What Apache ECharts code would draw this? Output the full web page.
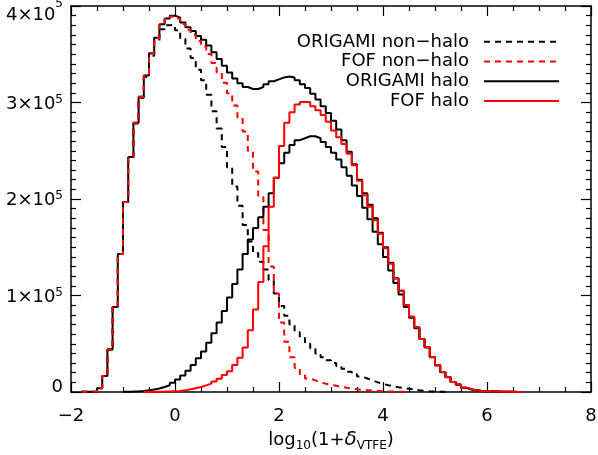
<!DOCTYPE html>
<html lang="en">
<head>
  <meta charset="UTF-8" />
  <title>log10(1+delta_VTFE) histogram</title>
  <style>
    * { padding: 0; margin: 0; }
    html, body { width: 100%; height: 100%; background: #fff; }
    #chart { width: 598px; height: 455px; }
  </style>
</head>
<body>
  <div id="chart"></div>
  <script src="https://cdn.jsdelivr.net/npm/echarts@6/dist/echarts.min.js"></script>
  <script>
    // bins are 0.1 wide in log10(1+delta); every list starts at its first bin's left edge
    var binWidth = 0.1

    var allStart = -1.8
    var allCounts = [
      200, 300, 500, 4000, 16600, 44000, 88000, 143000, 197000, 243500,
      279000, 306000, 328000, 351000, 367000, 381000, 387000, 390000, 388000, 383000,
      378000, 374000, 369000, 365000, 359000, 352000, 345000, 338000, 331000, 325000,
      320000, 316000, 314000, 314000, 316000, 319000, 322000, 324000, 326000, 327000,
      326000, 323000, 319000, 315000, 309000, 303000, 296000, 289000, 281000, 272000,
      261000, 249000, 236000, 220000, 206000, 194000, 180000, 165000, 150000, 134000,
      118000, 105000, 90000, 78000, 67000, 55000, 46600, 36300, 28000, 20700,
      15500, 10400, 7700, 4500, 2800, 1800, 1000, 700, 500, 400,
      300, 200, 200, 100, 100
    ]

    var origamiNonHaloStart = -1.8
    var origamiNonHalo = [
      200, 300, 500, 4000, 16600, 44000, 88000, 143000, 196800, 243100,
      278300, 304900, 326300, 348500, 363400, 375800, 380000, 380500, 375000, 366000,
      356000, 346000, 334000, 323000, 308000, 291000, 273000, 254000, 233000, 213000,
      193000, 173000, 156000, 144000, 135000, 127000, 116000, 102000, 89000, 79000,
      70000, 62000, 56000, 50000, 45000, 40000, 36000, 33000, 30000, 27000,
      24000, 21000, 18500, 16000, 14000, 12000, 10000, 8500, 7000, 6000,
      5000, 4200, 3300, 2500, 1800, 1200, 800, 500, 300, 200
    ]

    var fofNonHaloStart = -1.8
    var fofNonHalo = [
      200, 300, 500, 4000, 16600, 44000, 88000, 143000, 197000, 243500,
      279000, 306000, 327900, 350800, 366700, 380600, 386400, 389200, 387000, 381300,
      375200, 370200, 363800, 358100, 350300, 341000, 331200, 320400, 309500, 297000,
      284500, 270000, 250000, 228600, 202000, 168000, 130000, 102000, 72000, 52000,
      36000, 25000, 18500, 14000, 12000, 10000, 8500, 7500, 6500, 5500,
      4500, 3500, 2800, 2200, 1800, 1400, 1100, 800, 600, 400,
      300, 200, 100
    ]

    var origamiHaloStart = -1.0
    var origamiHalo = [
      200, 400, 700, 1100, 1700, 2500, 3600, 5200, 7000, 9500,
      13000, 17000, 22000, 28000, 35000, 42000, 51000, 61000, 72000, 84000,
      98000, 112000, 127000, 143000, 158000, 170000, 181000, 192000, 206000, 222000,
      237000, 248000, 256000, 261000, 263000, 265000, 265000, 263000, 259000, 254000,
      248000, 241000, 233000, 224000, 214000, 203000, 191000, 179000, 166000, 153000,
      140000, 126000, 113000, 101000, 88000, 77000, 66000, 55000, 46000, 36000,
      27500, 20500, 15300, 10300, 7600, 4400, 2700, 1700, 1000, 700,
      500, 400, 300, 200, 200, 100, 100
    ]

    var fofHaloStart = -0.6
    var fofHalo = [
      100, 200, 300, 400, 600, 800, 1000, 1700, 2800, 3800,
      5200, 6900, 8700, 11000, 13800, 17600, 21500, 28000, 35500, 46000,
      64000, 85400, 114000, 151000, 192000, 222000, 255000, 279000, 290000, 298000,
      300500, 300500, 296000, 292000, 287000, 280000, 271000, 264000, 257000, 247000,
      235000, 219000, 204000, 192000, 178000, 164000, 149000, 133000, 117500, 105000,
      90000, 78000, 67000, 55000, 46600, 36300, 28000, 20700, 15500, 10400,
      7700, 4500, 2800, 1800, 1000, 700, 500, 400, 300, 200,
      200, 100, 100
    ]

    var legendNames = ['ORIGAMI non−halo', 'FOF non−halo', 'ORIGAMI halo', 'FOF halo']

    var font = 'DejaVu Sans'

    // left edge of each bin, plus the right edge of the last one so it gets drawn too
    function binPoints(start, counts) {
      var pts = counts.map(function (c, i) {
        return [Math.round((start + i * binWidth) * 100) / 100, c]
      })
      pts.push([Math.round((start + counts.length * binWidth) * 100) / 100, counts[counts.length - 1]])
      return pts
    }

    function histSeries(name, start, counts, color, dashed) {
      return {
        name: name,
        type: 'line',
        step: 'end',
        symbol: 'none',
        showSymbol: false,
        silent: true,
        data: binPoints(start, counts),
        lineStyle: { color: color, width: 2, type: dashed ? [6, 5] : 'solid' },
        itemStyle: { color: color }
      }
    }

    var chart = echarts.init(document.getElementById('chart'))

    var tickStyle = { inside: true, length: 10, lineStyle: { color: '#000', width: 1.2 } }
    var minorStyle = { show: true, length: 5, lineStyle: { color: '#000', width: 1.2 } }
    var axisLine = { show: true, onZero: false, lineStyle: { color: '#000', width: 1.5 } }

    var txt = { fontFamily: font, color: '#000' }

    var option = {
      animation: false,
      backgroundColor: '#fff',
      grid: { left: 71, right: 7, top: 6, bottom: 63, containLabel: false, outerBoundsMode: 'none' },
      legend: {
        data: legendNames,
        orient: 'vertical',
        align: 'right',
        right: 38,
        top: 32,
        padding: 0,
        itemGap: 0,
        itemWidth: 75,
        itemHeight: 12,
        selectedMode: false,
        itemStyle: { opacity: 0 },
        lineStyle: { width: 2 },
        textStyle: {
          fontFamily: font,
          fontSize: 18,
          color: '#000',
          lineHeight: 19.7,
          padding: [0, 10, 0, 0]
        }
      },
      xAxis: [
        {
          type: 'value',
          min: -2,
          max: 8,
          interval: 2,
          position: 'bottom',
          axisLine: axisLine,
          axisTick: tickStyle,
          minorTick: Object.assign({ splitNumber: 4 }, minorStyle),
          splitLine: { show: false },
          axisLabel: {
            margin: 15,
            fontFamily: font,
            fontSize: 18,
            color: '#000',
            formatter: function (v) { return String(v).replace('-', '−') }
          },
          name: '{a|log}{s|10}{a|(1+}{d|δ}{s|VTFE}{a|)}',
          nameLocation: 'middle',
          nameGap: 32,
          nameTextStyle: {
            rich: {
              a: Object.assign({ fontSize: 18, lineHeight: 24 }, txt),
              d: Object.assign({ fontSize: 20, lineHeight: 24, fontStyle: 'italic' }, txt),
              s: Object.assign({ fontSize: 12, lineHeight: 14, verticalAlign: 'bottom' }, txt)
            }
          }
        },
        {
          type: 'value',
          min: -2,
          max: 8,
          interval: 2,
          position: 'top',
          axisLine: axisLine,
          axisTick: tickStyle,
          minorTick: Object.assign({ splitNumber: 4 }, minorStyle),
          splitLine: { show: false },
          axisLabel: { show: false }
        }
      ],
      yAxis: [
        {
          type: 'value',
          min: 0,
          max: 400000,
          interval: 100000,
          position: 'left',
          axisLine: axisLine,
          axisTick: tickStyle,
          minorTick: Object.assign({ splitNumber: 10 }, minorStyle),
          splitLine: { show: false },
          axisLabel: {
            margin: 8,
            // the end labels sit inside the frame, as in the original plot
            formatter: function (v) {
              if (v === 0) return '{z|0}'
              var k = v === 400000 ? 't' : 'm'
              return '{' + k + '|' + v / 1e5 + '×10}{' + k + 'e|5}'
            },
            rich: {
              z: Object.assign({ fontSize: 18, lineHeight: 24, padding: [0, 0, 10, 0] }, txt),
              m: Object.assign({ fontSize: 18, lineHeight: 24, padding: [3, 0, 0, 0] }, txt),
              me: Object.assign({ fontSize: 12, lineHeight: 12, verticalAlign: 'top', padding: [3, 0, 0, 0] }, txt),
              t: Object.assign({ fontSize: 18, lineHeight: 24, padding: [18, 0, 0, 0] }, txt),
              te: Object.assign({ fontSize: 12, lineHeight: 12, verticalAlign: 'top', padding: [4, 0, 0, 0] }, txt)
            }
          }
        },
        {
          type: 'value',
          min: 0,
          max: 400000,
          interval: 100000,
          position: 'right',
          axisLine: axisLine,
          axisTick: tickStyle,
          minorTick: Object.assign({ splitNumber: 10 }, minorStyle),
          splitLine: { show: false },
          axisLabel: { show: false }
        }
      ],
      series: [
        histSeries('all particles', allStart, allCounts, '#000', false),
        histSeries(legendNames[0], origamiNonHaloStart, origamiNonHalo, '#000', true),
        histSeries(legendNames[1], fofNonHaloStart, fofNonHalo, '#ff0000', true),
        histSeries(legendNames[2], origamiHaloStart, origamiHalo, '#000', false),
        histSeries(legendNames[3], fofHaloStart, fofHalo, '#ff0000', false)
      ]
    }

    chart.setOption(option)

    window.addEventListener('resize', function () {
      chart.resize()
    })
  </script>
</body>
</html>
